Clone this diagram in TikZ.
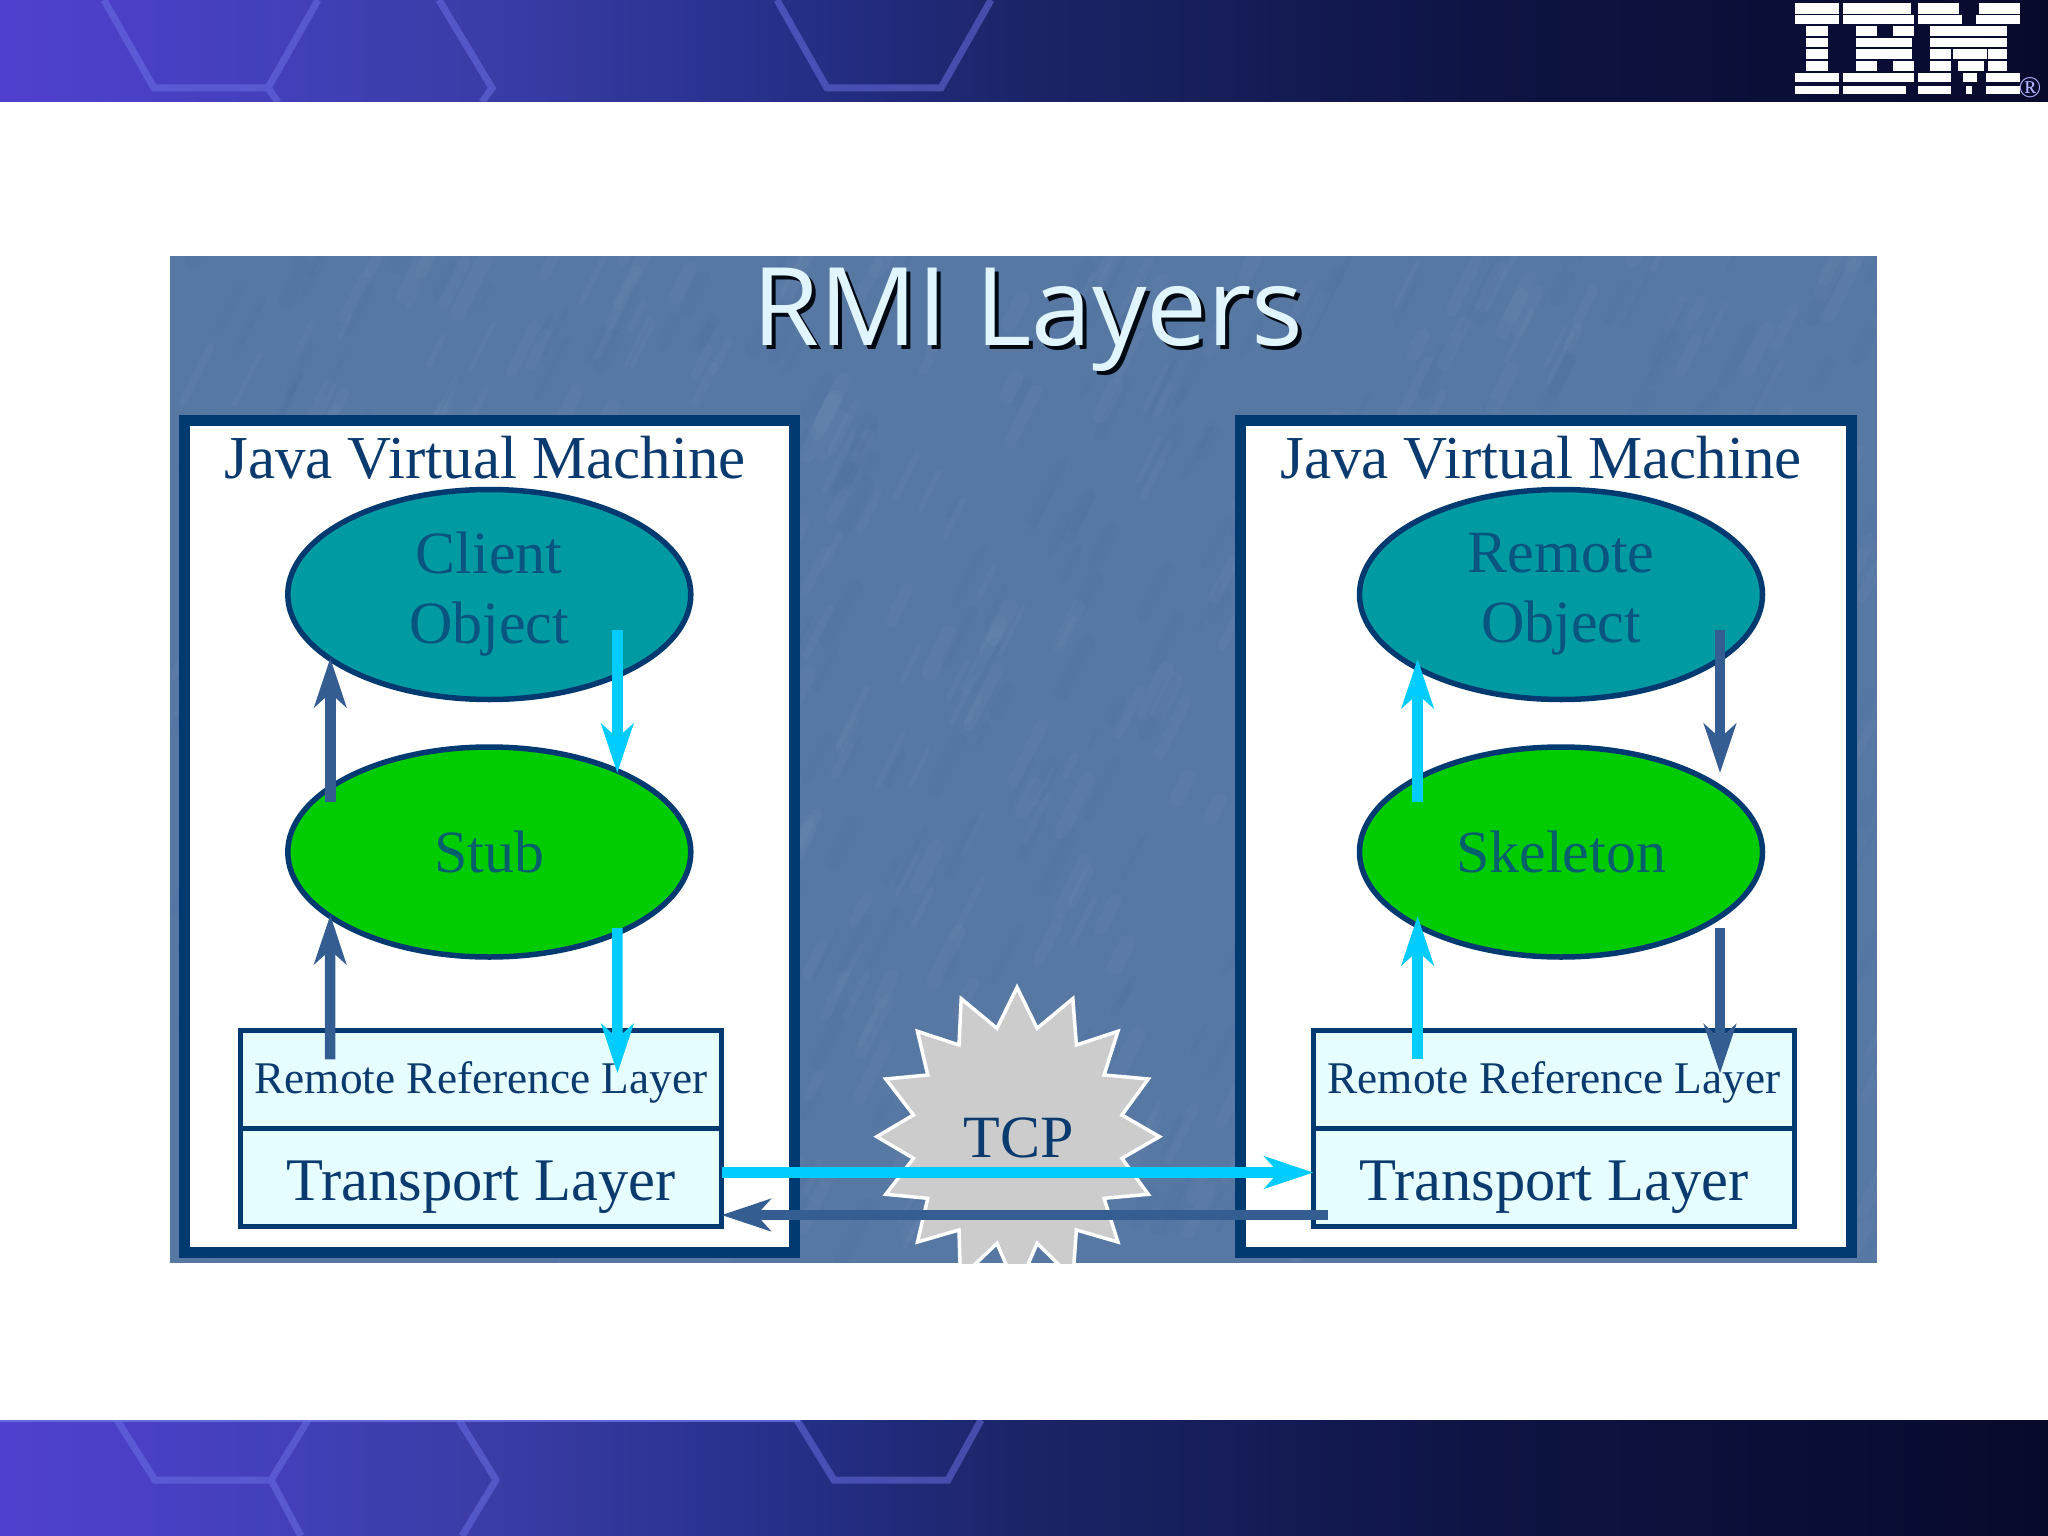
\documentclass[tikz,border=0pt]{standalone}
\usepackage{fontspec}
\setmainfont{Liberation Serif}
\newfontfamily\titlefont{Open Sans}
\usetikzlibrary{shapes.geometric,arrows.meta}
\definecolor{navy}{HTML}{003A70}
\definecolor{txtblue}{HTML}{0A3A6E}
\definecolor{txtteal}{HTML}{0A5480}
\definecolor{txtgreen}{HTML}{06606C}
\definecolor{darkarr}{HTML}{345E92}
\definecolor{cyanarr}{HTML}{00CCFF}
\definecolor{boxfill}{HTML}{E6FEFF}
\definecolor{tealfill}{HTML}{009AA2}
\definecolor{greenfill}{HTML}{00CC00}
\definecolor{panelblue}{HTML}{5878A4}
\definecolor{hexline}{HTML}{6E72E6}
\definecolor{b0}{HTML}{5040D0}\definecolor{b1}{HTML}{4440BC}\definecolor{b2}{HTML}{3A3CA6}
\definecolor{b3}{HTML}{26308A}\definecolor{b4}{HTML}{1C2468}\definecolor{b5}{HTML}{0E1444}\definecolor{b6}{HTML}{080A2C}
\pgfdeclarehorizontalshading{bandfill}{100bp}{color(0bp)=(b0);color(25bp)=(b0);color(31bp)=(b1);color(37bp)=(b2);color(44bp)=(b3);color(50bp)=(b4);color(61bp)=(b5);color(75bp)=(b6);color(100bp)=(b6)}
\begin{document}
\begin{tikzpicture}[x=1pt,y=-1pt,
 every node/.style={inner sep=0pt,outer sep=0pt},
 oval/.style={ellipse,draw=navy,line width=5.5pt,minimum width=403pt,minimum height=210pt,
   align=center,font=\fontsize{60}{70}\selectfont},
 layerbox/.style={rectangle,draw=navy,line width=5pt,fill=boxfill,minimum width=481pt,
   minimum height=98pt,text=txtblue},
 jvmbox/.style={rectangle,draw=navy,line width=11pt,fill=white,minimum width=609.5pt,minimum height=832pt},
 jvmtitle/.style={anchor=base,text=txtblue,font=\fontsize{61}{61}\selectfont},
 dkarrow/.style={draw=darkarr,line width=10.5pt,-{Stealth[length=49pt,width=32pt,inset=14pt]}},
 cyarrow/.style={draw=cyanarr,line width=10.5pt,-{Stealth[length=49pt,width=32pt,inset=14pt]}},
 hexstroke/.style={draw=hexline,line width=7pt,opacity=.5,line join=miter},
 bar/.style={fill=white,draw=white,line width=1.2pt},
]
\useasboundingbox (0,0) rectangle (2048,1536);
\fill[white] (0,0) rectangle (2048,1536);
% top band
\shade[shading=bandfill] (0,0) rectangle (2048,102);
\begin{scope}
\clip (0,0) rectangle (2048,102);
\draw[hexstroke] (104,0)--(154,88)--(268,88)--(318,0) (268,88)--(278,102) (439,0)--(492,88)--(482,102) (777,0)--(827,88)--(941,88)--(991,0);
\end{scope}
% bottom band
\shade[shading=bandfill] (0,1420) rectangle (2048,1536);
\begin{scope}
\clip (0,1420) rectangle (2048,1536);
\draw[hexstroke] (117,1420)--(155,1480)--(271,1480)--(308,1420) (271,1480)--(301,1536) (459,1420)--(496,1480)--(462,1536) (797,1420)--(834,1480)--(948,1480)--(981,1420);
\end{scope}
\fill[hexline,opacity=.8] (0,1420) rectangle (800,1422);
% IBM logo
\begin{scope}[shift={(1700,0)},x=.3333pt,y=-.3333pt]
\foreach \xa/\xb/\ya/\yb in {288/415/12/40,432/632/12/40,655/775/12/40,840/958/12/40,
 288/415/47/70,432/640/47/70,655/785/47/70,830/958/47/70,
 320/382/80/105,470/530/80/105,580/640/80/105,692/920/80/105,
 320/382/115/140,470/635/115/140,692/920/115/140,
 320/382/150/175,470/635/150/175,692/750/150/175,760/860/150/175,865/920/150/175,
 320/382/185/210,470/530/185/210,580/640/185/210,692/750/185/210,775/850/185/210,865/920/185/210,
 288/415/222/245,432/640/222/245,655/750/222/245,790/830/222/245,860/958/222/245,
 288/415/260/280,432/615/260/280,655/750/260/280,800/815/260/280,860/958/260/280}
 \fill[bar] (\xa,\ya) rectangle (\xb,\yb);
\node[text=white!70!blue,font=\fontsize{30}{30}\selectfont] (regmark) at (990,262) {\textregistered};
\end{scope}
% panel
\fill[panelblue] (170,256) rectangle (1877,1263);
\begin{scope}
\clip (170,256) rectangle (1877,1263);
\pgfmathsetseed{42}
\foreach \i in {1,...,900}{
  \pgfmathsetmacro{\px}{170+1707*rnd}
  \pgfmathsetmacro{\py}{256+1007*rnd}
  \pgfmathsetmacro{\pl}{20+45*rnd}
  \pgfmathsetmacro{\pw}{4+12*rnd}
  \pgfmathparse{rnd>.45?1:0}
  \ifnum\pgfmathresult=1 \def\pc{white}\else\def\pc{navy}\fi
  \draw[color=\pc,opacity=.022,line width=\pw pt,line cap=round] (\px,\py) -- ++(\pl*.45,-\pl*.9);
}
\end{scope}
% title
\node[anchor=base west,text=black!85!navy,font=\titlefont\fontsize{108.5}{108.5}\selectfont] (titleshadow) at (756,349) {RMI Layers};
\node[anchor=base west,text=white!88!cyan,font=\titlefont\fontsize{108.5}{108.5}\selectfont] (title) at (752,345) {RMI Layers};
% JVM boxes
\node[jvmbox] (jvmL) at (489.25,836.5) {};
\node[jvmbox,minimum width=611pt] (jvmR) at (1546.25,836.5) {};
\node[jvmtitle] (jvmLt) at (485,478) {Java Virtual Machine};
\node[jvmtitle] (jvmRt) at (1541,478) {Java Virtual Machine};
% TCP star
\begin{scope}
\clip (170,256) rectangle (1877,1263);
\begin{scope}[shift={(680,960)},x=.4464pt,y=-.3333pt]
\draw[fill=black!20,draw=white,line width=3.5pt,line join=miter]
 (755,82)--(710,205)--(630,116)--(625,255)--(532,214)--(555,345)--(461,357)--(523,465)--(441,530)--(523,595)--(461,703)--(555,715)--(532,846)--(625,810)--(628,955)--(710,850)--(755,990)--(800,850)--(880,955)--(888,810)--(981,846)--(950,715)--(1049,703)--(990,595)--(1074,530)--(990,465)--(1049,357)--(950,345)--(981,214)--(888,255)--(880,116)--(800,205)--cycle;
\end{scope}
\end{scope}
\node[anchor=base,text=txtblue,font=\fontsize{60}{60}\selectfont] (tcp) at (1019,1157) {TCP};
% ellipses
\node[oval,fill=tealfill,text=txtteal] (client) at (489.3,594.5) {Client\\Object};
\node[oval,fill=greenfill,text=txtgreen] (stub) at (489.3,852) {\raisebox{-20pt}[0pt][0pt]{Stub}};
\node[oval,fill=tealfill,text=txtteal] (remote) at (1561,594.5) {Remote\\Object};
\node[oval,fill=greenfill,text=txtgreen] (skel) at (1561,852) {\raisebox{-20pt}[0pt][0pt]{Skeleton}};
% layer boxes
\node[layerbox,font=\fontsize{45.3}{45.3}\selectfont] (rrL) at (481,1079.25) {\raisebox{-14pt}[0pt][0pt]{Remote Reference Layer}};
\node[layerbox,font=\fontsize{60.5}{60.5}\selectfont] (tlL) at (481,1177.25) {\raisebox{-23pt}[0pt][0pt]{Transport Layer}};
\node[layerbox,font=\fontsize{45.3}{45.3}\selectfont] (rrR) at (1554,1079.25) {\raisebox{-14pt}[0pt][0pt]{Remote Reference Layer}};
\node[layerbox,font=\fontsize{60.5}{60.5}\selectfont] (tlR) at (1554,1177.25) {\raisebox{-23pt}[0pt][0pt]{Transport Layer}};
% left connectors
\draw[dkarrow] ([shift={(-159pt,50pt)}]stub.center) -- ([shift={(-159pt,-63.5pt)}]client.center);
\draw[cyarrow] ([shift={(128pt,-35.5pt)}]client.center) -- ([shift={(128pt,79pt)}]stub.center);
\draw[dkarrow] ([shift={(-151pt,20pt)}]rrL.center) -- ([shift={(-159pt,-63pt)}]stub.center);
\draw[cyarrow] ([shift={(128pt,-76pt)}]stub.center) -- ([shift={(136.5pt,6pt)}]rrL.center);
% right connectors
\draw[cyarrow] ([shift={(-143.4pt,50pt)}]skel.center) -- ([shift={(-143.4pt,-64.5pt)}]remote.center);
\draw[dkarrow] ([shift={(159pt,-35pt)}]remote.center) -- ([shift={(159pt,79pt)}]skel.center);
\draw[cyarrow] ([shift={(-136.4pt,20pt)}]rrR.center) -- ([shift={(-143.4pt,-64pt)}]skel.center);
\draw[dkarrow] ([shift={(159pt,-76pt)}]skel.center) -- ([shift={(166pt,5.75pt)}]rrR.center);
% horizontal connectors
\draw[cyarrow] ([yshift=4.75pt]tlL.east) -- ([yshift=4.75pt]tlR.west);
\draw[dkarrow] ([shift={(14.5pt,-37.75pt)}]tlR.west) -- ([yshift=-37.75pt]tlL.east);
\end{tikzpicture}
\end{document}
